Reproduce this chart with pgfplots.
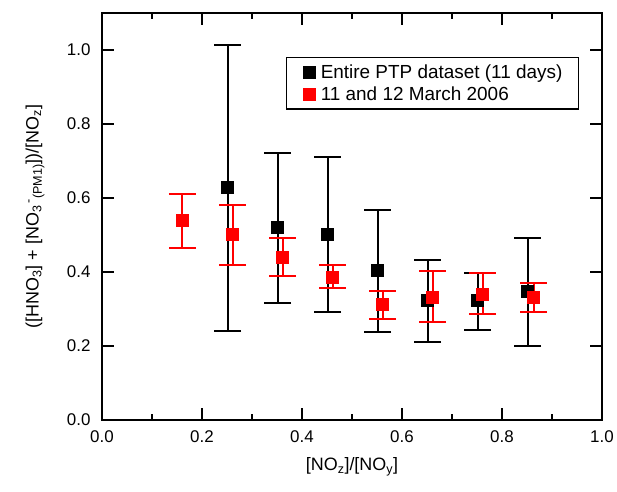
\documentclass[border=0pt]{standalone}
\usepackage{fontspec}
\setmainfont{Liberation Sans}
\usepackage{pgfplots}
\usepackage{pgfplotstable}
\pgfplotsset{compat=1.18}

% x, y, error plus, error minus
\pgfplotstableread{
x     y     ep    em
0.251 0.628 0.386 0.387
0.351 0.520 0.202 0.205
0.451 0.501 0.209 0.208
0.551 0.404 0.164 0.167
0.651 0.323 0.109 0.113
0.751 0.323 0.075 0.080
0.851 0.347 0.144 0.148
}\entire

\pgfplotstableread{
x     y     ep    em
0.161 0.539 0.073 0.073
0.261 0.501 0.081 0.082
0.361 0.441 0.051 0.053
0.461 0.387 0.033 0.031
0.561 0.312 0.037 0.040
0.661 0.333 0.069 0.067
0.761 0.341 0.055 0.055
0.863 0.331 0.040 0.040
}\march

\begin{document}
\begin{tikzpicture}
\begin{axis}[
  at={(0,0)}, anchor=south west,
  scale only axis, width=500bp, height=407bp,
  xmin=0, xmax=1, ymin=0, ymax=1.1,
  xtick={0,0.2,0.4,0.6,0.8,1.0},
  ytick={0,0.2,0.4,0.6,0.8,1.0},
  minor xtick={0.1,0.3,0.5,0.7,0.9},
  tick align=inside,
  major tick length=12bp, minor tick length=6bp,
  axis line style={line width=2bp},
  every tick/.style={black, line width=1.5bp},
  tick label style={font=\fontsize{17}{20}\selectfont},
  xticklabel style={yshift=-7bp},
  yticklabel style={xshift=-8bp},
  /pgf/number format/.cd, fixed, fixed zerofill, precision=1, assume math mode=true,
  /pgfplots/.cd,
  xlabel={[NO\textsubscript{z}]/[NO\textsubscript{y}]},
  ylabel={([HNO\textsubscript{3}] + [NO\textsubscript{3}\textsuperscript{\,-}\textsubscript{(PM1)}])/[NO\textsubscript{z}]},
  every axis x label/.style={at={(axis description cs:0.5,-0.1155)}, anchor=center,
    font=\fontsize{18}{21}\selectfont},
  every axis y label/.style={at={(axis description cs:-0.134,0.5)}, rotate=90, anchor=center,
    font=\fontsize{18}{21}\selectfont},
  legend style={at={(axis description cs:0.368,0.892)}, anchor=north west,
    draw=black, line width=1.2bp, font=\fontsize{19}{23}\selectfont,
    inner xsep=14bp, inner ysep=5bp, row sep=3bp, cells={anchor=west},
    /tikz/every even column/.append style={column sep=10bp}},
  legend image code/.code={\draw[#1] plot coordinates {(0.3cm,0cm)}; \path (0,0) (0.6cm,0);},
]
\addplot[black, only marks, mark=square*, mark size=6bp,
  error bars/.cd, y dir=both, y explicit,
  error bar style={black, line width=2bp},
  error mark options={black, rotate=90, mark size=13.5bp, line width=2bp}]
  table[x=x, y=y, y error plus=ep, y error minus=em] {\entire};
\addlegendentry{Entire PTP dataset (11 days)}

\addplot[red, only marks, mark=square*, mark size=6bp,
  error bars/.cd, y dir=both, y explicit,
  error bar style={red, line width=2bp},
  error mark options={red, rotate=90, mark size=13.5bp, line width=2bp}]
  table[x=x, y=y, y error plus=ep, y error minus=em] {\march};
\addlegendentry{11 and 12 March 2006}
\end{axis}
\pgfresetboundingbox
\path[use as bounding box] (-102bp,-72bp) rectangle (515bp,420bp);
\end{tikzpicture}
\end{document}
